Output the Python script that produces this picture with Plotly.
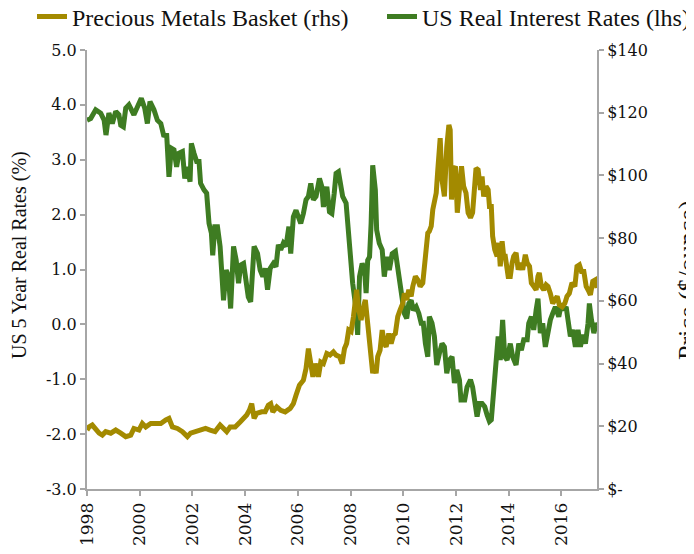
import plotly.graph_objects as go

# US 5-year real rates (%) - left axis
rates_x = [1998.0, 1998.14, 1998.33, 1998.52, 1998.65, 1998.72, 1998.83, 1998.96, 1999.09, 1999.21,
           1999.28, 1999.38, 1999.47, 1999.59, 1999.78, 1999.91, 2000.06, 2000.19, 2000.29, 2000.39,
           2000.54, 2000.67, 2000.80, 2000.92, 2001.02, 2001.11, 2001.20, 2001.30, 2001.40, 2001.49,
           2001.62, 2001.71, 2001.81, 2001.91, 2001.96, 2002.06, 2002.16, 2002.25, 2002.31, 2002.44,
           2002.54, 2002.63, 2002.72, 2002.77, 2002.85,
           2002.95, 2003.05, 2003.18, 2003.28, 2003.37, 2003.45, 2003.56, 2003.66, 2003.75, 2003.83,
           2003.94, 2004.04, 2004.12, 2004.21, 2004.34, 2004.47, 2004.57, 2004.67, 2004.76, 2004.85,
           2004.95, 2005.07, 2005.17, 2005.26, 2005.35, 2005.45, 2005.55, 2005.66, 2005.73, 2005.83,
           2005.93, 2006.02, 2006.11, 2006.21, 2006.31, 2006.40, 2006.49, 2006.59, 2006.69, 2006.82,
           2006.91, 2006.97, 2007.10, 2007.20, 2007.29, 2007.38, 2007.45, 2007.54,
           2007.70, 2007.83, 2007.96, 2008.02, 2008.08, 2008.18, 2008.27, 2008.34, 2008.44, 2008.53,
           2008.59, 2008.65, 2008.72, 2008.78, 2008.84, 2008.94, 2008.99, 2009.09, 2009.20, 2009.28,
           2009.37, 2009.47, 2009.58, 2009.70, 2009.79, 2009.88, 2009.95, 2010.04, 2010.13, 2010.21,
           2010.30, 2010.38, 2010.49, 2010.59, 2010.68, 2010.76, 2010.84, 2010.93, 2010.99, 2011.09,
           2011.18, 2011.27, 2011.37, 2011.47, 2011.56, 2011.65, 2011.75, 2011.85, 2011.94, 2012.03,
           2012.13, 2012.19,
           2012.33, 2012.42, 2012.55, 2012.63, 2012.80, 2012.89, 2012.99, 2013.09, 2013.18, 2013.27,
           2013.34, 2013.43, 2013.52, 2013.60, 2013.68, 2013.77, 2013.85, 2013.94, 2014.06, 2014.15,
           2014.28, 2014.38, 2014.48, 2014.57, 2014.70, 2014.76, 2014.86, 2014.95, 2015.04, 2015.11,
           2015.20, 2015.29, 2015.39, 2015.49, 2015.58, 2015.67, 2015.77, 2015.90, 2016.00, 2016.09,
           2016.18, 2016.25, 2016.34, 2016.43, 2016.53, 2016.63, 2016.72, 2016.81, 2016.91, 2017.01,
           2017.06, 2017.14, 2017.23, 2017.32, 2017.35]
rates_y = [3.72, 3.75, 3.91, 3.85, 3.72, 3.45, 3.85, 3.66, 3.88, 3.82,
           3.63, 3.60, 3.94, 4.00, 3.82, 3.97, 4.12, 3.94, 3.66, 4.06,
           3.91, 3.72, 3.66, 3.42, 3.48, 2.69, 3.21, 3.18, 2.87, 3.12,
           3.15, 2.66, 2.87, 2.60, 3.30, 3.12, 2.97, 2.97, 2.57, 2.45,
           2.39, 1.84, 1.66, 1.26, 1.78,
           1.78, 1.42, 0.44, 0.99, 0.87, 0.29, 1.42, 1.17, 0.75, 1.08,
           1.11, 0.75, 0.50, 0.41, 1.42, 1.29, 0.99, 0.87, 1.02, 0.63,
           1.02, 1.11, 1.05, 1.45, 1.36, 1.48, 1.42, 1.78, 1.29, 1.96,
           2.08, 1.96, 1.84, 2.02, 2.27, 2.33, 2.57, 2.27, 2.33, 2.66,
           2.51, 2.14, 2.51, 2.05, 2.02, 2.39, 2.75, 2.78,
           2.33, 2.21, 1.36, 1.11, 0.75, 0.38, -0.19, 0.87, 1.11, 0.99,
           0.57, 1.17, 1.23, 1.84, 2.90, 2.45, 1.72, 1.48, 1.36, 0.87,
           1.23, 0.99, 1.29, 1.33, 0.99, 0.75, 0.50, 0.20, 0.11, 0.38,
           0.44, 0.26, 0.32, 0.20, 0.02, 0.02, -0.35, -0.59, 0.14, 0.02,
           -0.22, -0.74, -0.53, -0.35, -0.41, -0.89, -0.65, -0.59, -1.07, -0.83,
           -1.01, -1.38,
           -1.38, -1.14, -1.01, -1.14, -1.68, -1.44, -1.44, -1.50, -1.65, -1.77,
           -1.74, -1.26, -0.59, -0.22, -0.65, 0.08, -0.59, -0.65, -0.35, -0.59,
           -0.74, -0.35, -0.47, -0.28, -0.28, 0.02, 0.14, -0.10, 0.26, 0.47,
           -0.16, 0.02, -0.41, -0.10, 0.08, 0.20, 0.32, 0.14, 0.38, 0.26,
           0.32, 0.08, -0.22, -0.10, -0.41, -0.10, -0.41, -0.19, -0.35, 0.02,
           0.38, 0.08, -0.16, 0.02, -0.01]

# Precious metals basket price ($/ounce) - right axis
metals_x = [1998.0, 1998.08, 1998.20, 1998.33, 1998.46, 1998.58, 1998.71, 1998.90, 1999.09, 1999.28,
            1999.47, 1999.66, 1999.78, 1999.97, 2000.10, 2000.23, 2000.42, 2000.61, 2000.80, 2000.99,
            2001.11, 2001.24, 2001.43, 2001.62, 2001.81, 2001.93, 2002.12, 2002.31, 2002.50,
            2002.67, 2002.86, 2003.05, 2003.18, 2003.30, 2003.43, 2003.62, 2003.81, 2003.94, 2004.06,
            2004.16, 2004.25, 2004.34, 2004.44, 2004.63, 2004.76, 2004.88, 2004.97, 2005.05, 2005.20,
            2005.35, 2005.52, 2005.71, 2005.83, 2005.93, 2006.06, 2006.21, 2006.31, 2006.40, 2006.49,
            2006.57, 2006.66, 2006.78, 2006.87, 2006.97, 2007.10, 2007.22, 2007.35,
            2007.45, 2007.58, 2007.68, 2007.77, 2007.85, 2007.93, 2008.02, 2008.11, 2008.18, 2008.23,
            2008.31, 2008.40, 2008.49, 2008.56, 2008.65, 2008.72, 2008.78, 2008.84, 2008.90, 2008.97,
            2009.03, 2009.12, 2009.20, 2009.28, 2009.35, 2009.45, 2009.54, 2009.63, 2009.70, 2009.79,
            2009.88, 2009.98, 2010.04, 2010.13, 2010.21, 2010.30, 2010.36, 2010.46, 2010.55, 2010.64,
            2010.74, 2010.80, 2010.87, 2010.93, 2010.99, 2011.06, 2011.12, 2011.18, 2011.25, 2011.31,
            2011.40, 2011.47, 2011.56, 2011.65, 2011.73, 2011.78, 2011.83, 2011.90, 2011.98, 2012.05,
            2012.13, 2012.21,
            2012.29, 2012.38, 2012.46, 2012.55, 2012.63, 2012.71, 2012.76, 2012.84, 2012.93, 2012.99,
            2013.05, 2013.14, 2013.22, 2013.27, 2013.34, 2013.39, 2013.47, 2013.56, 2013.62, 2013.68,
            2013.75, 2013.81, 2013.87, 2013.98, 2014.06, 2014.13, 2014.19, 2014.28, 2014.36, 2014.44,
            2014.53, 2014.63, 2014.70, 2014.79, 2014.86, 2014.95, 2015.04, 2015.11, 2015.16, 2015.24,
            2015.33, 2015.42, 2015.49, 2015.58, 2015.67, 2015.75, 2015.84, 2015.92, 2016.03, 2016.13,
            2016.21, 2016.30, 2016.40, 2016.51, 2016.59, 2016.68, 2016.76, 2016.85, 2016.94, 2017.04,
            2017.10, 2017.19, 2017.29, 2017.35]
metals_y = [18.8, 19.8, 20.4, 18.8, 17.8, 17.2, 18.3, 17.8, 18.8, 17.8,
            16.7, 17.2, 19.3, 18.8, 20.9, 19.8, 20.9, 20.9, 20.9, 22.0,
            22.5, 19.8, 19.3, 18.3, 16.7, 17.8, 18.3, 18.8, 19.3,
            18.8, 18.3, 20.4, 19.3, 18.3, 19.8, 19.8, 21.4, 22.5, 23.6,
            25.1, 27.2, 22.5, 24.1, 24.6, 24.6, 26.7, 27.2, 24.6, 26.2,
            25.1, 24.6, 25.7, 27.2, 29.9, 33.1, 34.7, 38.4, 44.8, 38.9,
            35.8, 40.0, 35.8, 40.5, 40.0, 43.2, 42.7, 43.7,
            42.7, 42.2, 40.0, 44.8, 46.4, 50.7, 50.2, 55.0, 62.4, 63.5,
            57.1, 53.9, 58.1, 60.3, 52.8, 45.4, 42.2, 36.9, 39.0, 36.9,
            42.2, 44.3, 50.7, 46.4, 45.4, 49.6, 46.4, 49.1, 49.6, 55.0,
            57.1, 59.2, 62.4, 60.3, 63.5, 61.4, 64.6, 67.8, 66.7, 64.6,
            65.7, 72.1, 77.4, 81.6, 82.2, 83.8, 89.1, 92.3, 94.4, 101.8,
            111.9, 98.6, 93.3, 109.2, 116.1, 114.5, 92.3, 101.8, 102.9, 88.1,
            96.5, 102.9,
            96.5, 94.4, 88.1, 86.5, 88.1, 95.4, 102.3, 101.8, 95.4, 99.7,
            93.3, 96.5, 95.4, 90.1, 90.1, 80.6, 76.3, 74.2, 78.5, 71.0,
            79.0, 74.2, 74.2, 67.8, 67.8, 72.1, 74.2, 75.3, 69.9, 72.1,
            69.9, 74.7, 72.1, 71.0, 65.7, 64.6, 63.5, 67.8, 68.9, 64.6,
            63.5, 65.1, 64.6, 62.4, 59.2, 60.3, 61.4, 58.7, 58.1, 59.2,
            61.4, 62.4, 65.7, 64.6, 71.0, 71.5, 69.4, 69.4, 64.6, 63.0,
            61.9, 66.2, 66.7, 64.1]

x_tickvals = [1998, 2000, 2002, 2004, 2006, 2008, 2010, 2012, 2014, 2016]
x_ticktext = ["1998", "2000", "2002", "2004", "2006", "2008", "2010", "2012", "2014", "2016"]
left_tickvals = [5, 4, 3, 2, 1, 0, -1, -2, -3]
left_ticktext = ["5.0", "4.0", "3.0", "2.0", "1.0", "0.0", "-1.0", "-2.0", "-3.0"]
right_tickvals = [0, 20, 40, 60, 80, 100, 120, 140]
right_ticktext = ["$-", "$20", "$40", "$60", "$80", "$100", "$120", "$140"]

GOLD = "#A38A00"
GREEN = "#3E7C22"
AXIS = "#A6A6A6"
TICKFONT = dict(family="DejaVu Serif", size=16, color="#111111")
XTICKFONT = dict(family="DejaVu Serif", size=17, color="#111111")
TITLEFONT = dict(family="Liberation Serif", size=20, color="#111111")
LEGFONT = dict(family="Liberation Serif", size=24, color="#111111")

# page body adds an 8px offset; plot area spans 510 x 439 px
ML, MT, PW, PH = 79, 42, 510, 439
W, H = 694, 554

fig = go.Figure()
fig.add_trace(go.Scatter(x=metals_x, y=metals_y, mode="lines", name="Precious Metals Basket (rhs)",
                         line=dict(color=GOLD, width=5), yaxis="y2", legend="legend"))
fig.add_trace(go.Scatter(x=rates_x, y=rates_y, mode="lines", name="US Real Interest Rates (lhs)",
                         line=dict(color=GREEN, width=5), yaxis="y", legend="legend2"))

fig.update_layout(
    width=W, height=H,
    margin=dict(l=ML, r=W - ML - PW, t=MT, b=H - MT - PH, autoexpand=False),
    paper_bgcolor="white", plot_bgcolor="white",
    showlegend=True,
    legend=dict(xref="container", yref="container", x=24 / W, y=(H - 9) / H,
                xanchor="left", yanchor="middle", font=LEGFONT, bgcolor="rgba(0,0,0,0)"),
    legend2=dict(xref="container", yref="container", x=374 / W, y=(H - 9) / H,
                 xanchor="left", yanchor="middle", font=LEGFONT, bgcolor="rgba(0,0,0,0)"),
    xaxis=dict(range=[1998, 2017.35], tickvals=x_tickvals, ticktext=x_ticktext, tickangle=-90,
               showgrid=False, zeroline=False, showline=True, linecolor=AXIS, linewidth=2,
               ticks="outside", ticklen=5, tickcolor=AXIS, tickwidth=2, tickfont=XTICKFONT),
    yaxis=dict(range=[-3, 5], tickvals=left_tickvals, ticktext=left_ticktext,
               showgrid=False, zeroline=False, showline=True, linecolor=AXIS, linewidth=2,
               ticks="outside", ticklen=5, tickcolor=AXIS, tickwidth=2, tickfont=TICKFONT),
    yaxis2=dict(range=[0, 140], tickvals=right_tickvals, ticktext=right_ticktext, overlaying="y",
                side="right", showgrid=False, zeroline=False, showline=True, linecolor=AXIS, linewidth=2,
                ticks="outside", ticklen=5, tickcolor=AXIS, tickwidth=2, tickfont=TICKFONT),
    annotations=[
        dict(text="US 5 Year Real Rates (%)", xref="paper", yref="paper", x=(11 - ML) / PW,
             y=(MT + PH - 247) / PH, textangle=-90, showarrow=False, xanchor="center", yanchor="middle",
             font=TITLEFONT),
        dict(text="Price ($/ounce)", xref="paper", yref="paper", x=(679 - ML) / PW,
             y=(MT + PH - 272) / PH, textangle=-90, showarrow=False, xanchor="center", yanchor="middle",
             font=dict(family="Liberation Serif", size=26, color="#111111")),
    ],
)

fig.write_html("out.html")
